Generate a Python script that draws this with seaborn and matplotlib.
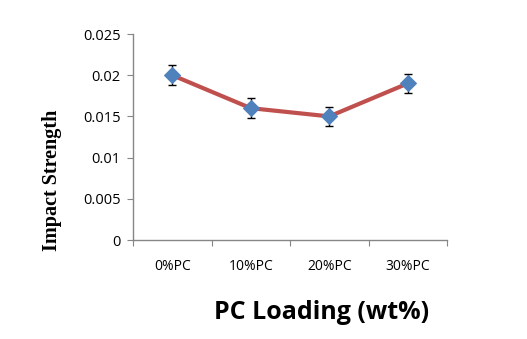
import matplotlib
matplotlib.use("Agg")
import matplotlib.pyplot as plt
import seaborn as sns
import pandas as pd

loadings = ["0%PC", "10%PC", "20%PC", "30%PC"]
impact = [0.020, 0.016, 0.015, 0.019]
impact_err = [0.0012, 0.0012, 0.0012, 0.0012]
y_ticks = [0, 0.005, 0.01, 0.015, 0.02, 0.025]
y_tick_labels = ["0", "0.005", "0.01", "0.015", "0.02", "0.025"]

sns.set_style("white")
plt.rcParams["font.family"] = ["Open Sans", "DejaVu Sans"]
plt.rcParams["text.color"] = "black"
plt.rcParams["xtick.color"] = "black"
plt.rcParams["ytick.color"] = "black"
plt.rcParams["axes.labelcolor"] = "black"

df = pd.DataFrame({"pos": range(len(loadings)), "impact": impact})

fig = plt.figure(figsize=(5.27, 3.39), dpi=100)
ax = fig.add_axes([133 / 527, 1 - 240 / 339, (447 - 133) / 527, (240 - 34) / 339])

ax.errorbar(df["pos"], df["impact"], yerr=impact_err, fmt="none",
            ecolor="black", elinewidth=1, capsize=3, capthick=1, zorder=2)
sns.lineplot(data=df, x="pos", y="impact", color="#c0504d", linewidth=3,
             marker="D", markersize=8, markerfacecolor="#4f81bd",
             markeredgecolor="#4f81bd", ax=ax, zorder=3)

ax.set_xlim(-0.5, len(loadings) - 0.5)
ax.set_ylim(0, 0.025)
ax.set_xticks([i - 0.5 for i in range(len(loadings) + 1)], minor=False)
ax.set_xticklabels([])
ax.set_xticks(range(len(loadings)), minor=True)
ax.set_xticklabels(loadings, minor=True, fontsize=10)
ax.tick_params(axis="x", which="major", length=4, color="#868686", direction="out", bottom=True)
ax.tick_params(axis="x", which="minor", length=0, pad=14)
ax.set_yticks(y_ticks)
ax.set_yticklabels(y_tick_labels, fontsize=10.5)
ax.tick_params(axis="y", length=4, color="#868686", direction="out", left=True, pad=5)

for side in ["top", "right"]:
    ax.spines[side].set_visible(False)
for side in ["left", "bottom"]:
    ax.spines[side].set_color("#868686")
    ax.spines[side].set_linewidth(1)

ax.set_xlabel("PC Loading (wt%)", fontsize=18, fontweight="bold")
ax.xaxis.set_label_coords(0.60, -0.29)
ax.set_ylabel("Impact Strength", fontsize=14.5, fontweight="bold",
              family=["Liberation Serif"])
ax.yaxis.set_label_coords(-0.225, 0.29)

fig.savefig("out.png", dpi=100)
